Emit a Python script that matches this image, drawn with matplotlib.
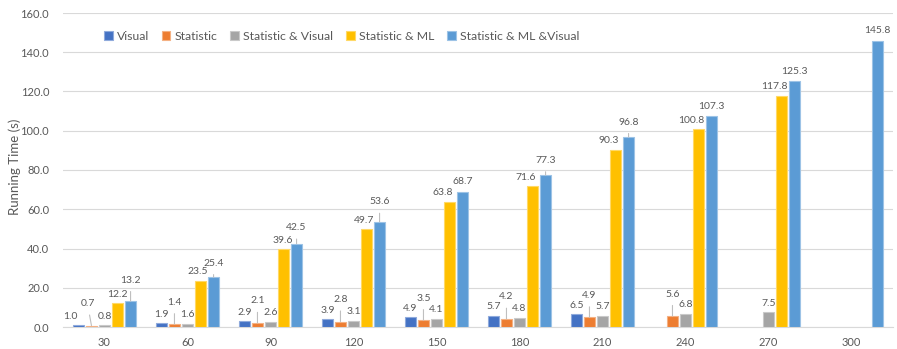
import numpy as np
import matplotlib
matplotlib.use("Agg")
import matplotlib.pyplot as plt

plt.rcParams['font.family'] = ['Lato', 'DejaVu Sans']

categories = ["30", "60", "90", "120", "150", "180", "210", "240", "270", "300"]
series_names = ["Visual", "Statistic", "Statistic & Visual", "Statistic & ML", "Statistic & ML &Visual"]

nan = np.nan
visual = [1.0, 1.9, 2.9, 3.9, 4.9, 5.7, 6.5, nan, nan, nan]
statistic = [0.7, 1.4, 2.1, 2.8, 3.5, 4.2, 4.9, 5.6, nan, nan]
stat_visual = [0.8, 1.6, 2.6, 3.1, 4.1, 4.8, 5.7, 6.8, 7.5, nan]
stat_ml = [12.2, 23.5, 39.6, 49.7, 63.8, 71.6, 90.3, 100.8, 117.8, nan]
stat_ml_visual = [13.2, 25.4, 42.5, 53.6, 68.7, 77.3, 96.8, 107.3, 125.3, 145.8]

series = [visual, statistic, stat_visual, stat_ml, stat_ml_visual]
colors = ["#4472C4", "#ED7D31", "#A5A5A5", "#FFC000", "#5B9BD5"]
edges = ["#8FAADC", "#F4B183", "#C9C9C9", "#FFD966", "#9DC3E6"]

# label placement relative to bar tops (pixels): vertical lift and sideways nudge
lift_px = [
    [9] * 10,
    [22] * 10,
    [9] * 10,
    [9] * 10,
    [21, 14, 16, 20, 11, 15, 15, 10, 10, 10],
]
nudge_px = [
    [-8, 0, 0, 0, 0, 0, 0, 0, 0, 0],
    [-4, 0, 0, 0, 0, 0, 0, 0, 0, 0],
    [0] * 10,
    [0, -3, -1, -2, -7, -7, -7, -7, -7, 0],
    [0] * 10,
]

W, H, DPI = 897, 349, 100
fig = plt.figure(figsize=(W / DPI, H / DPI), dpi=DPI)
ax = fig.add_axes([63 / W, 22 / H, 830 / W, 314 / H])

x = np.arange(len(categories))
pitch = 0.157
bw = 0.127
txt = "#595959"
px2pt = 72 / DPI

for i, (vals, c, ec) in enumerate(zip(series, colors, edges)):
    xs = x + (i - 2) * pitch
    v = np.array(vals, dtype=float)
    ok = ~np.isnan(v)
    ax.bar(xs[ok], v[ok], width=bw, color=c, edgecolor=ec, linewidth=0.8, zorder=3,
           label=series_names[i])
    for j in np.where(ok)[0]:
        off = lift_px[i][j]
        lead = off > 12
        ax.annotate(f"{v[j]:.1f}", xy=(xs[j], v[j]),
                    xytext=(nudge_px[i][j] * px2pt, off * px2pt),
                    textcoords="offset points", ha="center", va="center",
                    fontsize=7.5, color=txt, zorder=4,
                    arrowprops=dict(arrowstyle="-", color="#BFBFBF", lw=0.8,
                                    shrinkA=3, shrinkB=0) if lead else None)

ax.set_xlim(-0.5, len(categories) - 0.5)
ax.set_ylim(0, 160)
ax.set_yticks(np.arange(0, 161, 20))
ax.set_yticklabels([f"{t:.1f}" for t in np.arange(0, 161, 20)])
ax.set_xticks(x)
ax.set_xticklabels(categories)
ax.tick_params(axis="both", length=0, colors=txt, labelsize=8)
ax.tick_params(axis="y", pad=10)
ax.tick_params(axis="x", pad=7)
ax.grid(axis="y", color="#D9D9D9", linewidth=0.8, zorder=0)
for s in ["left", "right", "top"]:
    ax.spines[s].set_visible(False)
ax.spines["bottom"].set_color("#D9D9D9")
ax.spines["bottom"].set_linewidth(0.8)
ax.set_axisbelow(True)

fig.text(15 / W, 0.5 + 8 / H, "Running Time (s)", rotation=90, ha="center", va="center",
         fontsize=9.5, color=txt)

leg = fig.legend(loc="center left", bbox_to_anchor=(104 / W, 1 - 36 / H), ncol=5,
                 frameon=False, fontsize=8.8, handlelength=0.7, handleheight=0.7,
                 handletextpad=0.35, columnspacing=1.05, borderaxespad=0, borderpad=0)
for t in leg.get_texts():
    t.set_color(txt)

fig.savefig("out.png", dpi=DPI)
